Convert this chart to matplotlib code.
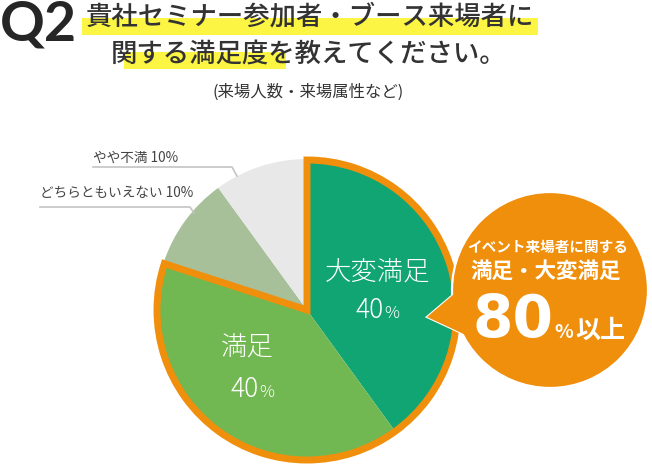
import matplotlib
matplotlib.use('Agg')
import matplotlib.pyplot as plt
from matplotlib.patches import Circle, Polygon, Rectangle

plt.rcParams['font.family'] = ['Noto Sans CJK JP', 'DejaVu Sans']

# data
categories = ['大変満足', '満足', 'どちらともいえない', 'やや不満']
shares = [40, 40, 10, 10]
colors = ['#11a574', '#72b852', '#a7c09a', '#e8e8e8']
satisfied_total = shares[0] + shares[1]

title_1 = '貴社セミナー参加者・ブース来場者に'
title_2 = '関する満足度を教えてください。'
subtitle = '(来場人数・来場属性など)'

W, H = 652, 466
ORANGE = '#f08f0c'
TEXT = '#333333'


def Y(y):
    # pixel rows from the top -> axes coords
    return H - y


fig = plt.figure(figsize=(W / 100, H / 100), dpi=100)
ax = fig.add_axes([0, 0, 1, 1])

cx, cy, r = 307, Y(310), 151

# main pie, clockwise from 12 o'clock
wedges, _ = ax.pie(shares, colors=colors, startangle=90, counterclock=False,
                   center=(cx, cy), radius=r,
                   wedgeprops=dict(linewidth=0))

# orange outline round the satisfied share
outline, _ = ax.pie([satisfied_total, 100 - satisfied_total], startangle=90,
                    counterclock=False, center=(cx, cy), radius=r - 1,
                    colors=['none', 'none'],
                    wedgeprops=dict(linewidth=5))
outline[0].set_edgecolor(ORANGE)
outline[1].set_edgecolor('none')

ax.set_xlim(0, W)
ax.set_ylim(0, H)
ax.set_aspect('equal')
ax.axis('off')

# labels inside the pie
ax.text(378, Y(281), categories[0], color='white', fontsize=19,
        fontweight='light', ha='center', va='baseline')
ax.text(384, Y(318), f'{shares[0]}', color='white', fontsize=19,
        fontweight='light', ha='right', va='baseline')
ax.text(384, Y(318), '%', color='white', fontsize=12,
        fontweight='light', ha='left', va='baseline')

ax.text(247, Y(356), categories[1], color='white', fontsize=19,
        fontweight='light', ha='center', va='baseline')
ax.text(259, Y(397), f'{shares[1]}', color='white', fontsize=19,
        fontweight='light', ha='right', va='baseline')
ax.text(259, Y(397), '%', color='white', fontsize=12,
        fontweight='light', ha='left', va='baseline')

# outside labels with leader lines
ax.text(93, Y(162), f'{categories[3]} {shares[3]}%', color='#444444',
        fontsize=9.8, ha='left', va='baseline')
ax.plot([93, 232, 237], [Y(167), Y(167), Y(176)], color='#c4c4c4', lw=1.2)
ax.text(40, Y(197), f'{categories[2]} {shares[2]}%', color='#444444',
        fontsize=9.8, ha='left', va='baseline')
ax.plot([40, 190, 194], [Y(207), Y(207), Y(213)], color='#c4c4c4', lw=1.2)

# speech bubble
bx, by, br = 550, Y(290), 98
tail = [(427, Y(317)), (467, Y(283)), (483, Y(343))]
ax.add_patch(Polygon(tail, closed=True, facecolor=ORANGE, edgecolor='white',
                     lw=1.6, zorder=4))
ax.add_patch(Circle((bx, by), br, facecolor=ORANGE, edgecolor='white',
                    lw=1.6, zorder=5))
ax.add_patch(Polygon(tail, closed=True, facecolor=ORANGE, edgecolor='none',
                     zorder=6))

ax.text(548, Y(252), 'イベント来場者に関する', color='white', fontsize=10.5,
        fontweight='bold', ha='center', va='baseline', zorder=7)
ax.text(546, Y(278), '満足・大変満足', color='white', fontsize=15.5,
        fontweight='bold', ha='center', va='baseline', zorder=7)
ax.text(553, Y(337), f'{satisfied_total}', color='white', fontsize=42,
        fontweight='bold', family=['DejaVu Sans'], ha='right', va='baseline',
        zorder=7)
ax.text(554, Y(338), '%', color='white', fontsize=14, fontweight='bold',
        ha='left', va='baseline', zorder=7)
ax.text(575, Y(338), '以上', color='white', fontsize=18, fontweight='bold',
        ha='left', va='baseline', zorder=7)

# title block
ax.add_patch(Rectangle((82, Y(35)), 456, 17, facecolor='#fdf543',
                       edgecolor='none', zorder=1))
ax.add_patch(Rectangle((124, Y(69)), 162, 17, facecolor='#fdf543',
                       edgecolor='none', zorder=1))
ax.text(0, Y(40), 'Q2', color='#262626', fontsize=40, fontweight='bold',
        family=['Lato', 'DejaVu Sans'], ha='left', va='baseline', zorder=2)
ax.text(310, Y(25), title_1, color=TEXT, fontsize=19, fontweight='medium',
        ha='center', va='baseline', zorder=2)
ax.text(309, Y(62), title_2, color=TEXT, fontsize=19, fontweight='medium',
        ha='center', va='baseline', zorder=2)
ax.text(308, Y(97), subtitle, color=TEXT, fontsize=11.8, ha='center',
        va='baseline', zorder=2)

fig.savefig('out.png', dpi=100)
